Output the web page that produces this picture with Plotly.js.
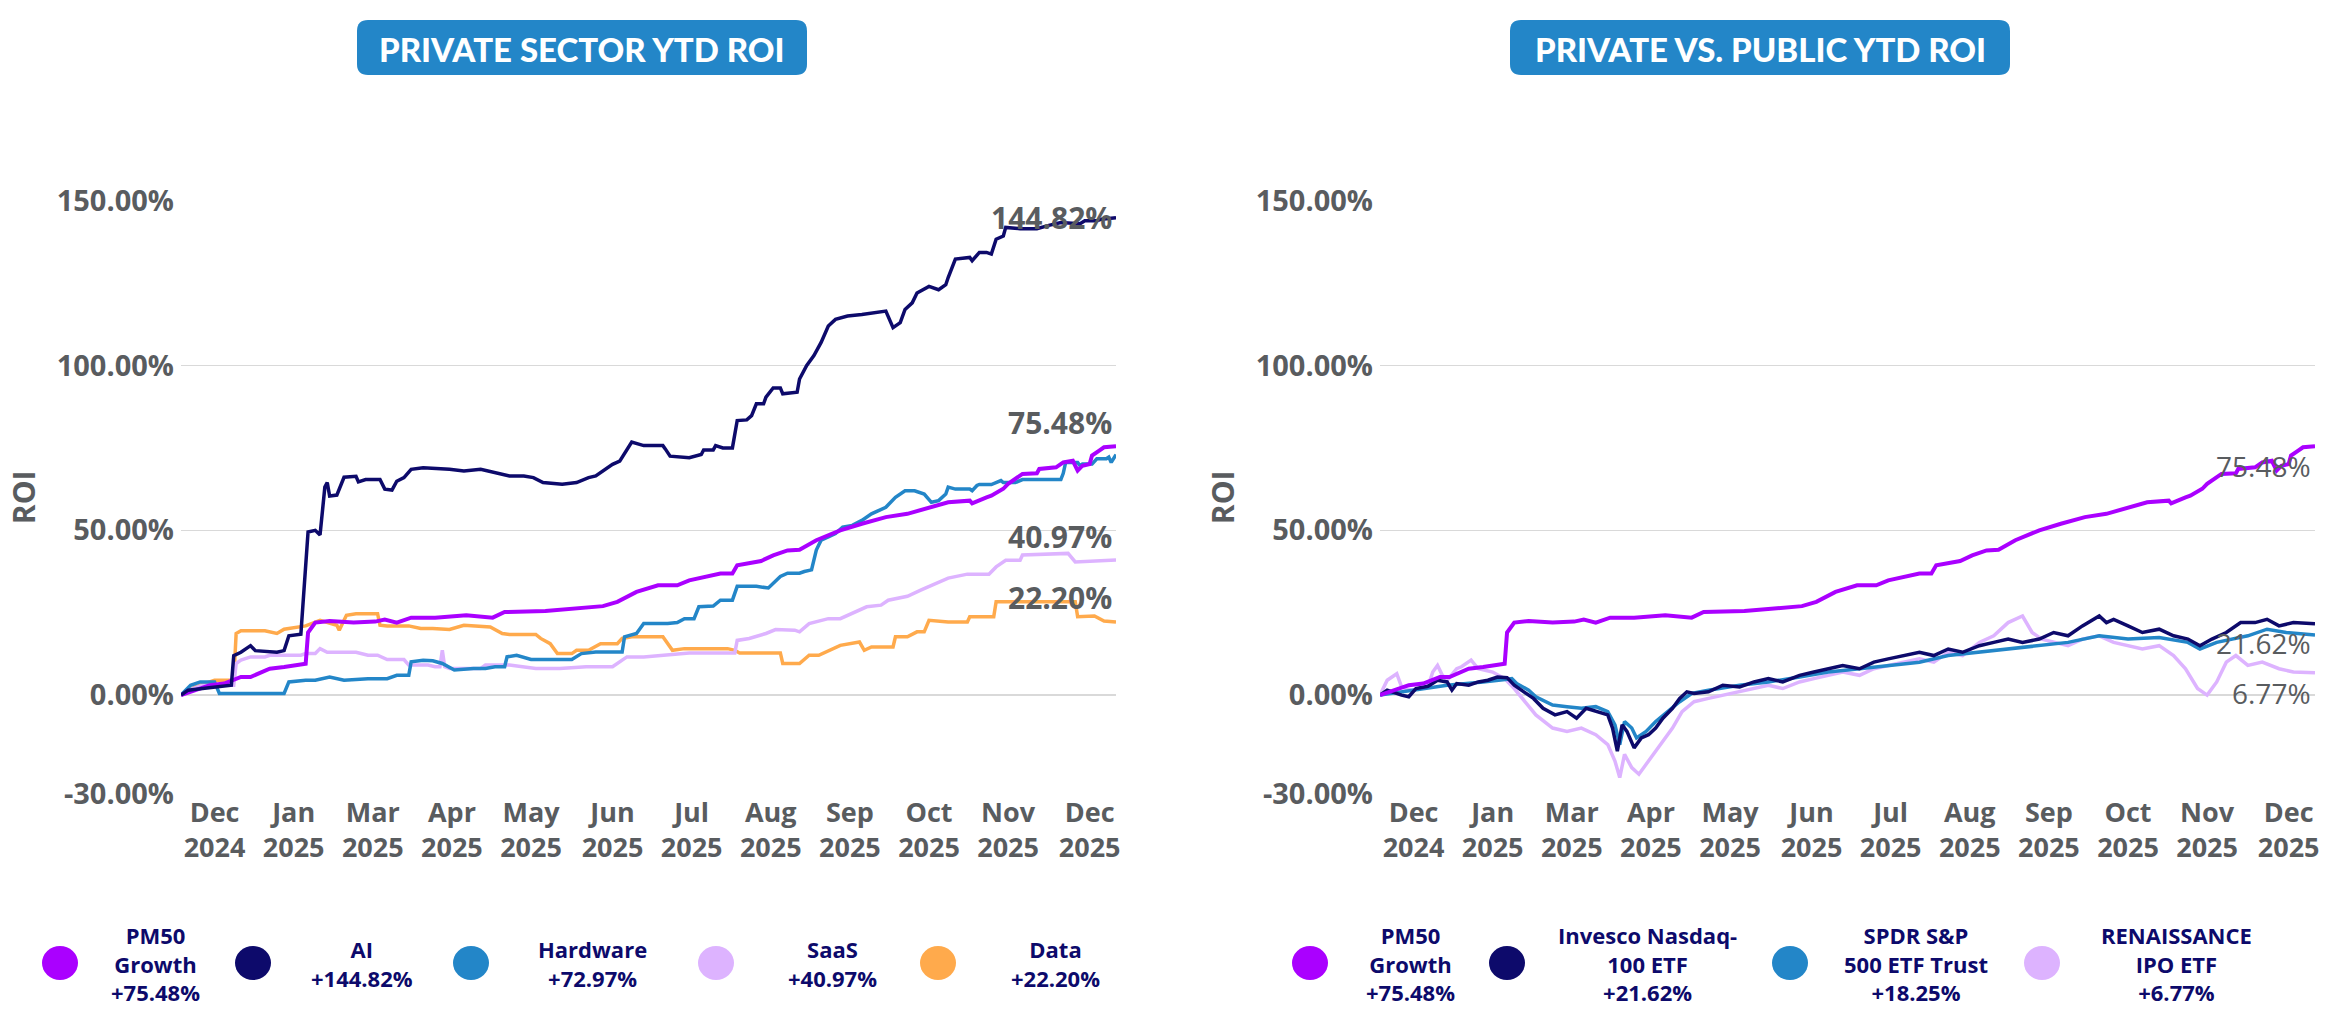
<!DOCTYPE html>
<html>
<head>
<meta charset="utf-8">
<script src="https://cdn.plot.ly/plotly-3.0.1.min.js"></script>
<style>html,body{margin:0;padding:0;background:#fff;}#chart{width:2350px;height:1013px;}</style>
</head>
<body>
<div id="chart"></div>
<script>
// ---------- DATA (x = days since start of period, y = ROI %) ----------
const xTickDays = [14, 47, 80, 113, 146, 180, 213, 246, 279, 312, 345, 379];
const xTickText = ["Dec<br>2024","Jan<br>2025","Mar<br>2025","Apr<br>2025","May<br>2025","Jun<br>2025","Jul<br>2025","Aug<br>2025","Sep<br>2025","Oct<br>2025","Nov<br>2025","Dec<br>2025"];
const roiTicks = [-30, 0, 50, 100, 150];
const roiTickText = ["-30.00%", "0.00%", "50.00%", "100.00%", "150.00%"];

const pm50Day = [0,4,12,18,25,29,34,37,43,48,52,53,56,62,72,81,85,90,96,106,119,130,135,152,165,176,182,190,199,207,212,225,230,232,242,247,253,258,265,275,284,294,303,312,320,329,330,336,338,343,345,351,357,358,365,368,372,374,376,379,380,383,385,390];
const pm50Roi = [0,1,3,3.5,5.5,5.5,7,8,8.5,9,9.5,19,22,22.5,22,22.3,22.9,22,23.5,23.5,24.2,23.5,25.2,25.5,26.2,27,28.3,31.3,33.3,33.3,34.8,36.9,36.9,39.4,40.7,42.4,43.9,44.1,47,50,52,54,55,57,58.5,59,58.2,60,60.5,62.6,64.1,67.1,67.3,68.6,69.1,70.6,71.1,68.1,69.6,70.1,72.7,74.2,75.2,75.48];

const aiDay = [0,3,9,15,18,21,22,25,29,31,40,43,45,50,53,56,58,60,61,62,65,66,68,73,74,77,83,85,88,90,93,96,101,112,118,125,131,137,143,147,151,159,165,170,173,176,180,183,186,188,193,201,202,204,212,217,218,222,223,226,230,232,236,238,240,243,244,247,250,251,257,258,261,264,267,270,273,278,284,290,294,297,300,302,305,307,312,316,319,320,323,329,330,333,336,338,340,343,344,350,357,362,367,375,377,382,384,390];
const aiRoi = [0,1.5,2,2.5,2.5,3,12,13,15,13.5,13,13.5,18,18.5,49.5,50,48.6,63.1,64.5,60.4,60.7,62.5,66.1,66.4,64.7,65.4,65.4,62.5,62.2,64.9,66,68.5,69,68.5,68,68.5,67.5,66.5,66.5,66,64.5,64,64.5,66,66.5,68,70,71,74.2,76.8,75.7,75.7,74.7,72.5,72,73,74.4,74.4,75.7,75,75,83.3,83.5,84.8,88.4,88.4,90.4,93.2,93.2,91.4,91.9,95.9,100,103,107,112,114,115,115.5,116,116.5,111.5,113,117,119,122,124,123,124.5,126.7,132.3,132.8,131.8,134.3,134.3,133.8,138.3,139.3,141.9,141.5,141.5,142.5,143.4,143,143.9,143.9,144.4,144.82];

const hwDay = [0,4,8,14,16,18,31,43,45,52,56,62,68,78,86,90,95,96,101,105,109,114,122,127,131,135,136,140,146,156,163,167,173,184,185,190,193,203,207,210,214,216,222,225,230,232,240,245,250,253,258,260,263,265,267,270,273,276,280,284,288,294,298,302,306,310,313,316,319,320,323,329,330,332,333,338,342,343,348,351,367,368,369,374,375,376,380,382,386,387,388,390];
const hwRoi = [0,3,4,4,0.5,0.5,0.5,0.5,4,4.5,4.5,5.5,4.5,5,5,6,6,10.1,10.6,10.4,9.6,7.6,8.1,8.1,8.6,8.6,11.6,12.1,10.8,10.8,10.8,12.6,13.1,13.1,17.7,18.7,21.7,21.7,22,23.2,23.2,26.8,27,28.8,28.8,33,33,32.5,36,37,37,37.5,38,44,47,48,49,51,51.5,53,55,57,60,62,62,61,58.5,59,61,63.1,62.5,62.5,62,63.6,63.9,63.9,65.1,64.5,64.5,65.4,65.4,67.3,70.6,70.6,69.6,70.1,70.1,71.7,71.7,72.2,70.6,72.97];

const saasDay = [0,5,9,22,23,25,29,35,37,50,52,56,58,61,73,78,82,86,93,95,103,106,108,109,110,112,125,127,137,148,158,169,180,186,193,200,212,231,232,237,244,248,256,258,262,270,275,286,292,295,303,309,315,320,328,337,340,344,350,351,370,373,390];
const saasRoi = [0,2,3,3,9.6,10.6,11.6,11.6,12.1,12.1,12.6,12.6,14.1,13,13,12.1,12.1,10.8,10.8,9.1,9.1,8.6,8.6,13.6,8.6,8.1,8.1,9.1,9.1,8.1,8.1,8.6,8.6,11.6,11.6,12.1,12.8,12.8,16.6,17.2,18.7,19.9,19.7,19.2,21.7,23.2,23.2,26.8,27.3,28.8,30,32,34,35.5,36.7,36.7,38.9,40.9,40.9,42.5,43,40.4,40.97];

const dataDay = [0,6,14,22,23,25,35,40,43,52,58,65,66,69,73,82,83,86,95,100,105,112,118,129,134,137,148,150,154,157,163,165,170,175,182,184,188,201,205,210,228,231,233,250,251,258,262,266,275,283,285,288,297,298,303,307,310,312,320,328,329,339,340,373,374,381,385,390];
const dataRoi = [0,2.5,4.5,4.5,18.7,19.5,19.5,18.7,20,21,22.7,21.2,19.7,24.2,24.7,24.7,21.2,21,21,20.2,20.2,19.9,21.2,20.7,18.7,18.4,18.4,17.2,15.6,12.6,12.6,13.6,13.6,15.6,15.6,17.2,17.7,17.7,13.6,14.1,14.1,13.6,12.8,12.8,9.6,9.6,12.1,12.1,15.1,16.1,13.6,14.6,14.6,17.7,17.7,19.2,19.2,22.7,22.2,22.2,23.8,23.8,28.3,28.3,23.8,24,22.5,22.2];

const qqqDay = [0,3,9,12,15,20,24,28,30,32,37,41,45,49,53,56,60,64,68,73,78,82,86,90,95,97,99,101,103,106,109,112,115,118,122,125,128,131,137,143,150,156,162,168,175,181,187,193,200,206,212,218,225,231,237,243,250,256,262,268,275,281,287,293,300,303,306,312,318,325,331,337,342,347,353,359,365,370,375,381,390];
const qqqRoi = [0,1.5,0,-0.5,2,2.7,4.5,4,1.5,3.5,3,4,4.5,5.5,5.3,3,1,-1,-4,-6,-5,-7,-4,-5,-6,-10,-17,-9,-11,-16,-13,-12,-10,-7,-4,-1,1,0.5,1,3,2.5,4,5,4,6,7,8,9,8,10,11,12,13,12,14,13,15,16,17,16,17,19,18,21,24,22,23,21,19,20,18,17,15,17,19,22,22,23,21,22,21.62];

const spyDay = [0,9,18,28,43,50,55,57,62,65,72,78,84,90,95,98,100,102,105,107,111,115,120,125,130,137,150,162,175,187,200,212,225,237,250,262,275,287,300,312,325,337,342,349,362,370,378,390];
const spyRoi = [0,1,2,3,4,4.5,5,3.5,1.5,-0.5,-3,-3.5,-4,-3.5,-5,-9,-15,-8,-10,-13,-11,-8,-5,-2,0.5,1.5,3,4,5.5,7,8,9,10,12,13,14,15,16,18,17,17.5,16,14,16,18,20,19,18.25];

const ipoDay = [0,3,7,9,13,20,22,24,26,28,32,34,38,41,47,52,56,60,65,72,78,84,90,95,98,100,102,105,108,112,117,122,126,131,137,143,150,156,162,168,175,181,187,193,200,206,212,218,225,231,237,243,250,256,262,268,272,276,281,287,293,300,306,312,318,325,331,336,341,345,349,353,357,362,368,375,381,390];
const ipoRoi = [0,4.5,6.5,2.5,1.5,2.5,7,9,6,4.5,8,8.6,10.6,8,7,5,2,-1.5,-6,-10,-11,-10,-12,-15,-20,-25,-18,-22,-24,-20,-15,-10,-5,-2,-1,0,1,2,3,2,4,5,6,7,6,8,9,10,11,10,13,12,16,18,22,24,19,17,16,15,17,18,16,15,14,15,12,8,2,0,4,10,12,9,10,8,7,6.77];

const leftNames = ["PM50<br>Growth", "AI", "Hardware", "SaaS", "Data"];
const rightNames = ["PM50<br>Growth", "Invesco Nasdaq-<br>100 ETF", "SPDR S&P<br>500 ETF Trust", "RENAISSANCE<br>IPO ETF"];
const titles = ["PRIVATE SECTOR YTD ROI", "PRIVATE VS. PUBLIC YTD ROI"];

// ---------- STYLE ----------
const C = {pm50:"#AA00FF", ai:"#0D0A6B", hw:"#2386C8", saas:"#DDB3FF", data:"#FFAA4C"};
const W = 2350, H = 1013;
const px = v => v / W, py = v => 1 - v / H;
const greyText = "#595c5f";
const navyText = "#0D0A6B";

function line(x, y, color, name, xa, ya, w) {
  return {x: x, y: y, mode: "lines", name: name, xaxis: xa, yaxis: ya,
          line: {color: color, width: w || 3.5}, hoverinfo: "x+y+name", showlegend: false};
}
const traces = [
  line(dataDay, dataRoi, C.data, "Data", "x", "y"),
  line(saasDay, saasRoi, C.saas, "SaaS", "x", "y"),
  line(hwDay, hwRoi, C.hw, "Hardware", "x", "y"),
  line(pm50Day, pm50Roi, C.pm50, "PM50 Growth", "x", "y", 4),
  line(aiDay, aiRoi, C.ai, "AI", "x", "y"),
  line(ipoDay, ipoRoi, C.saas, "RENAISSANCE IPO ETF", "x2", "y2"),
  line(spyDay, spyRoi, C.hw, "SPDR S&P 500 ETF Trust", "x2", "y2"),
  line(qqqDay, qqqRoi, C.ai, "Invesco Nasdaq-100 ETF", "x2", "y2"),
  line(pm50Day, pm50Roi, C.pm50, "PM50 Growth", "x2", "y2", 4)
];

const last = a => a[a.length - 1];
const pct = v => v.toFixed(2) + "%";

const tickFont = {family: "Open Sans", size: 29, color: greyText, weight: 700};
const xTickFont = {family: "Open Sans", size: 27, color: greyText, weight: 700};

function xAxis(domain, anchor) {
  return {domain: domain, anchor: anchor, range: [0, 390], tickmode: "array", tickvals: xTickDays, ticktext: xTickText,
          showgrid: false, zeroline: false, showline: false, ticks: "", tickfont: xTickFont, fixedrange: true};
}
function yAxis(anchor) {
  return {domain: [py(794), py(200.7)], anchor: anchor, range: [-30, 150], tickmode: "array", tickvals: roiTicks,
          ticktext: roiTickText, showgrid: true, gridcolor: "#d9d9d9", gridwidth: 1.5, zeroline: false,
          showline: false, ticks: "", tickfont: tickFont, ticklabelstandoff: 6,
          title: {text: "ROI", font: {family: "Open Sans", size: 30, color: greyText, weight: 700}, standoff: 12}, fixedrange: true};
}

const annotations = [];
const shapes = [];

// title badges
function badge(cx, halfW, text) {
  const cy = 47.5, halfH = 27.5, r = 11;
  const w = halfW, h = halfH;
  shapes.push({type: "path", xref: "paper", yref: "paper", xsizemode: "pixel", ysizemode: "pixel",
    xanchor: px(cx), yanchor: py(cy), fillcolor: "#2386C8", line: {width: 0}, layer: "below",
    path: `M ${-w + r},${-h} L ${w - r},${-h} Q ${w},${-h} ${w},${-h + r} L ${w},${h - r} Q ${w},${h} ${w - r},${h} L ${-w + r},${h} Q ${-w},${h} ${-w},${h - r} L ${-w},${-h + r} Q ${-w},${-h} ${-w + r},${-h} Z`});
  annotations.push({xref: "paper", yref: "paper", x: px(cx), y: py(cy + 1), xanchor: "center", yanchor: "middle",
    text: text, showarrow: false, font: {family: "Lato", size: 33, color: "#ffffff", weight: 900}});
}
badge(582, 225, titles[0]);
badge(1760, 250, titles[1]);

// end labels
function endLabel(xa, ya, value, shift, bold) {
  annotations.push({xref: xa, yref: ya, x: 390, y: value, xanchor: "right", yanchor: "middle", yshift: shift, xshift: -2,
    text: pct(value), showarrow: false,
    font: {family: "Open Sans", size: bold ? 30 : 28, color: greyText, weight: bold ? 700 : 400}});
}
endLabel("x", "y", last(aiRoi), 0, true);
endLabel("x", "y", last(pm50Roi), 24, true);
endLabel("x", "y", last(saasRoi), 24, true);
endLabel("x", "y", last(dataRoi), 24, true);
endLabel("x2", "y2", last(pm50Roi), -20, false);
endLabel("x2", "y2", last(qqqRoi), -19, false);
endLabel("x2", "y2", last(ipoRoi), -20, false);

// custom legends
function legendItem(cxCircle, cxText, color, name, value) {
  const cy = 963;
  shapes.push({type: "circle", xref: "paper", yref: "paper", xsizemode: "pixel", ysizemode: "pixel",
    xanchor: px(cxCircle), yanchor: py(cy), x0: -18, x1: 18, y0: -17, y1: 17, fillcolor: color, line: {width: 0}});
  annotations.push({xref: "paper", yref: "paper", x: px(cxText), y: py(cy), xanchor: "center", yanchor: "middle",
    align: "center", showarrow: false, text: name + "<br>+" + pct(value),
    font: {family: "Open Sans", size: 22, color: navyText, weight: 700}});
}
const leftVals = [last(pm50Roi), last(aiRoi), last(hwRoi), last(saasRoi), last(dataRoi)];
const leftCols = [C.pm50, C.ai, C.hw, C.saas, C.data];
const leftCirc = [60, 253, 471, 716, 938], leftTxt = [156, 362, 592, 832, 1055];
leftNames.forEach((n, i) => legendItem(leftCirc[i], leftTxt[i], leftCols[i], n, leftVals[i]));
const rightVals = [last(pm50Roi), last(qqqRoi), last(spyRoi), last(ipoRoi)];
const rightCols = [C.pm50, C.ai, C.hw, C.saas];
const rightCirc = [1310, 1507, 1790, 2042], rightTxt = [1410, 1647, 1916, 2176];
rightNames.forEach((n, i) => legendItem(rightCirc[i], rightTxt[i], rightCols[i], n, rightVals[i]));

const layout = {
  width: W, height: H, margin: {l: 0, r: 0, t: 0, b: 0}, paper_bgcolor: "#ffffff", plot_bgcolor: "#ffffff",
  showlegend: false, font: {family: "Open Sans", color: greyText},
  xaxis: xAxis([px(181), px(1116)], "y"),
  yaxis: yAxis("x"),
  xaxis2: xAxis([px(1380), px(2315)], "y2"),
  yaxis2: yAxis("x2"),
  annotations: annotations, shapes: shapes
};
Plotly.newPlot("chart", traces, layout, {displayModeBar: false, staticPlot: true});
</script>
</body>
</html>
